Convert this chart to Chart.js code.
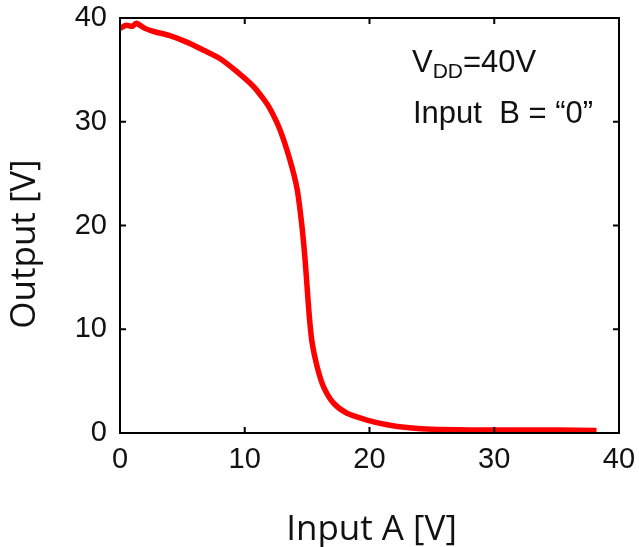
<!DOCTYPE html>
<html>
<head>
<meta charset="utf-8">
<script src="https://cdn.jsdelivr.net/npm/chart.js@4/dist/chart.umd.min.js"></script>
<style>
  html, body { margin: 0; padding: 0; background: #fff; }
  #wrap { width: 639px; height: 547px; }
</style>
</head>
<body>
<div id="wrap"><canvas id="vtc"></canvas></div>
<script>
// transfer curve
const inputA = [0, 0.5, 1, 1.3, 2, 2.7, 4, 5.3, 6.7, 8, 9.3, 10.7, 11.5, 12, 12.8, 13.6, 14.2, 14.56, 14.83, 15.05, 15.2, 15.4, 15.8, 16.3, 17.1, 18.2, 19.8, 21.4, 23.2, 25, 28, 32, 35, 38.2];
const outputV = [39.0, 39.3, 39.2, 39.5, 39.0, 38.7, 38.3, 37.7, 36.9, 36.1, 34.9, 33.4, 32.2, 31.3, 29.3, 26.4, 23.5, 20.2, 16.8, 13.2, 10.9, 8.7, 6.4, 4.5, 2.9, 1.9, 1.25, 0.8, 0.5, 0.35, 0.3, 0.3, 0.28, 0.25];
const xTicks = [0, 10, 20, 30, 40];
const yTicks = [0, 10, 20, 30, 40];

const points = inputA.map((x, i) => ({ x: x, y: outputV[i] }));

// frame, inward ticks, titles and annotation
const decorations = {
    id: 'decorations',
    afterDraw(chart) {
        const { ctx, chartArea: a, scales } = chart;
        ctx.save();
        ctx.strokeStyle = '#000';
        ctx.lineWidth = 2;
        ctx.strokeRect(a.left, a.top, a.right - a.left, a.bottom - a.top);

        const len = 6;
        ctx.beginPath();
        xTicks.forEach(v => {
            const px = scales.x.getPixelForValue(v);
            ctx.moveTo(px, a.bottom); ctx.lineTo(px, a.bottom - len);
            ctx.moveTo(px, a.top); ctx.lineTo(px, a.top + len);
        });
        yTicks.forEach(v => {
            const py = scales.y.getPixelForValue(v);
            ctx.moveTo(a.left, py); ctx.lineTo(a.left + len, py);
            ctx.moveTo(a.right, py); ctx.lineTo(a.right - len, py);
        });
        ctx.stroke();

        ctx.fillStyle = '#111';
        ctx.font = '35px "Open Sans"';
        ctx.textAlign = 'center';
        ctx.textBaseline = 'alphabetic';
        ctx.fillText('Input A [V]', (a.left + a.right) / 2 + 2, 540);

        ctx.save();
        ctx.translate(35, 244);
        ctx.rotate(-Math.PI / 2);
        ctx.fillText('Output [V]', 0, 0);
        ctx.restore();

        // V_DD = 40V
        ctx.textAlign = 'left';
        let x = 412;
        ctx.font = '31px "Liberation Sans"';
        ctx.fillText('V', x, 72);
        x += ctx.measureText('V').width;
        ctx.font = '21px "Liberation Sans"';
        ctx.fillText('DD', x, 78);
        x += ctx.measureText('DD').width;
        ctx.font = '31px "Liberation Sans"';
        ctx.fillText('=40V', x, 72);

        ctx.fillText('Input  B = \u201C0\u201D', 413, 123);
        ctx.restore();
    }
};

new Chart(document.getElementById('vtc'), {
    type: 'line',
    data: {
        datasets: [{
            data: points,
            borderColor: '#ff0000',
            borderWidth: 5.5,
            pointRadius: 0,
            tension: 0.25,
            fill: false
        }]
    },
    options: {
        responsive: true,
        maintainAspectRatio: false,
        animation: false,
        layout: { padding: { top: 18, right: 20, left: 0, bottom: 0 } },
        plugins: { legend: { display: false }, tooltip: { enabled: false } },
        scales: {
            x: {
                type: 'linear',
                min: 0,
                max: 40,
                grid: { display: false, drawTicks: false },
                border: { display: false },
                afterBuildTicks: s => { s.ticks = xTicks.map(v => ({ value: v })); },
                afterFit: s => { s.height = 114; s.paddingLeft = 0; s.paddingRight = 0; },
                ticks: {
                    padding: 10,
                    color: '#111',
                    font: { family: '"Liberation Sans"', size: 29 },
                    maxRotation: 0
                }
            },
            y: {
                min: 0,
                max: 40,
                grid: { display: false, drawTicks: false },
                border: { display: false },
                afterBuildTicks: s => { s.ticks = yTicks.map(v => ({ value: v })); },
                afterFit: s => { s.width = 120; s.paddingTop = 0; s.paddingBottom = 0; },
                ticks: {
                    padding: 13,
                    color: '#111',
                    font: { family: '"Liberation Sans"', size: 29 }
                }
            }
        }
    },
    plugins: [decorations]
});
</script>
</body>
</html>
